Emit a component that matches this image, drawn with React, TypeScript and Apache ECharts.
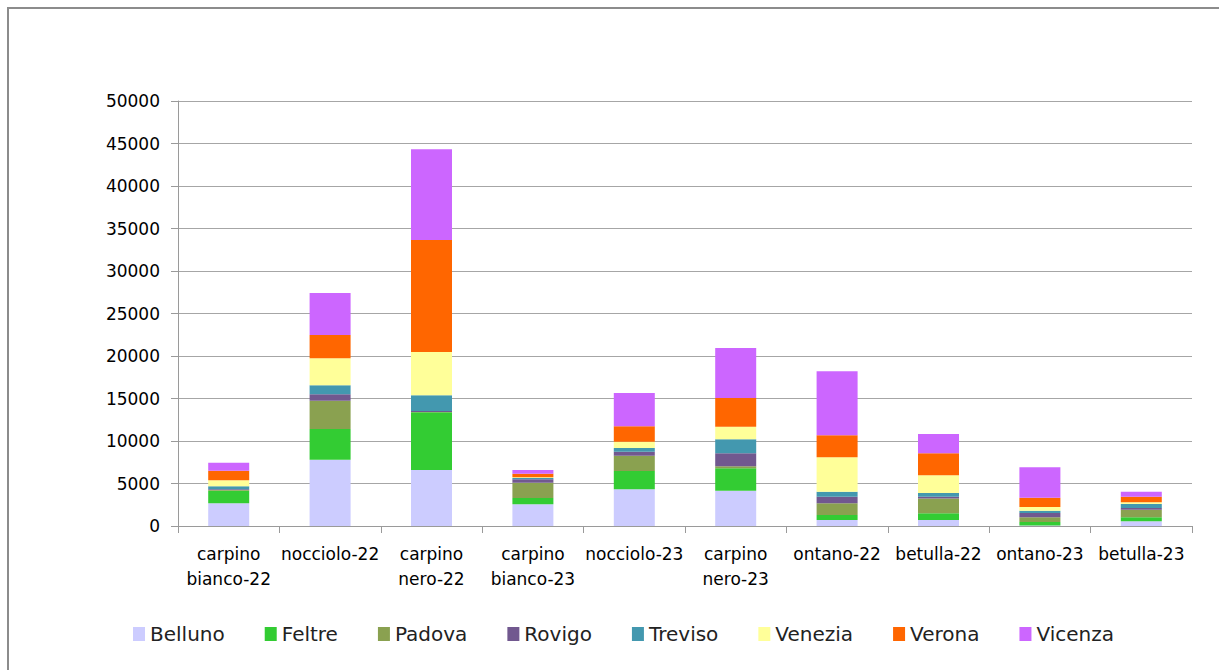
import React, { useEffect, useRef } from "react";
import * as echarts from "echarts";

const categories = [
  "carpino bianco-22",
  "nocciolo-22",
  "carpino nero-22",
  "carpino bianco-23",
  "nocciolo-23",
  "carpino nero-23",
  "ontano-22",
  "betulla-22",
  "ontano-23",
  "betulla-23",
];

const seriesNames = ["Belluno", "Feltre", "Padova", "Rovigo", "Treviso", "Venezia", "Verona", "Vicenza"];

const belluno = [2670, 7800, 6590, 2550, 4310, 4160, 700, 700, 50, 550];
const feltre = [1480, 3610, 6780, 740, 2160, 2620, 590, 790, 420, 470];
const padova = [100, 3330, 50, 1810, 1800, 240, 1380, 1760, 550, 900];
const rovigo = [60, 750, 110, 390, 480, 1530, 780, 200, 510, 200];
const treviso = [380, 1060, 1840, 160, 430, 1650, 590, 430, 270, 470];
const venezia = [700, 3180, 5100, 80, 740, 1490, 4040, 2080, 440, 190];
const verona = [1100, 2740, 13180, 430, 1810, 3370, 2590, 2590, 1090, 670];
const vicenza = [940, 4940, 10660, 430, 3920, 5880, 7530, 2270, 3570, 590];

const seriesValues = [belluno, feltre, padova, rovigo, treviso, venezia, verona, vicenza];
const colors = ["#CCCCFF", "#33CC33", "#8AA150", "#71588F", "#4398AF", "#FFFF99", "#FF6600", "#CC66FF"];

const yMin = 0;
const yMax = 50000;
const yInterval = 5000;

export default function App() {
  const ref = useRef<HTMLDivElement>(null);
  useEffect(() => {
    if (!ref.current) return;
    const chart = echarts.init(ref.current, null, { renderer: "svg" });
    const font = "'DejaVu Sans', sans-serif";
    chart.setOption({
      animation: false,
      backgroundColor: "#ffffff",
      graphic: [
        {
          type: "rect",
          shape: { x: 8, y: 8, width: 1300, height: 700 },
          style: { fill: "none", stroke: "#8c8c8c", lineWidth: 2 },
          silent: true,
        },
      ],
      grid: { left: 178, right: 27, top: 101, bottom: 144, containLabel: false },
      legend: {
        left: 128,
        top: 619,
        itemWidth: 12,
        itemHeight: 14,
        itemGap: 40,
        icon: "rect",
        textStyle: { fontFamily: font, fontSize: 20, color: "#222" },
        data: seriesNames,
      },
      xAxis: {
        type: "category",
        data: categories,
        boundaryGap: true,
        axisLine: { lineStyle: { color: "#9a9a9a", width: 1 } },
        axisTick: { show: true, alignWithLabel: false, length: 7, lineStyle: { color: "#9a9a9a" } },
        axisLabel: {
          interval: 0,
          margin: 15,
          color: "#000",
          fontFamily: font,
          fontSize: 17,
          lineHeight: 25,
          formatter: (v: string) => v.replace(" ", "\n"),
        },
      },
      yAxis: {
        type: "value",
        min: yMin,
        max: yMax,
        interval: yInterval,
        axisLine: { show: true, lineStyle: { color: "#9a9a9a", width: 1 } },
        axisTick: { show: true, length: 7, lineStyle: { color: "#9a9a9a" } },
        splitLine: { show: true, lineStyle: { color: "#a6a6a6", width: 1 } },
        axisLabel: {
          margin: 18,
          color: "#000",
          fontFamily: font,
          fontSize: 17,
          formatter: (v: number) => String(v),
        },
      },
      series: seriesNames.map((name, i) => ({
        name,
        type: "bar",
        stack: "total",
        barWidth: 41,
        data: seriesValues[i],
        itemStyle: { color: colors[i] },
      })),
    });
    return () => chart.dispose();
  }, []);
  return (
    <div
      ref={ref}
      style={{ position: "fixed", left: 0, top: 0, width: 1219, height: 670 }}
    />
  );
}
